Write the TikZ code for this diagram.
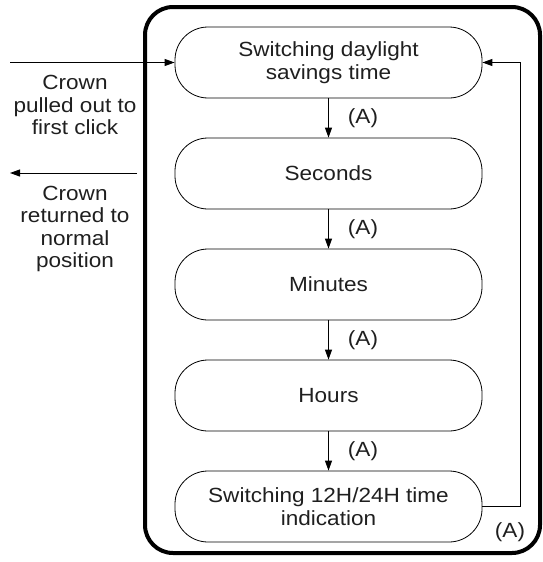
\documentclass[tikz,border=0pt]{standalone}
\usepackage{fontspec}
\setmainfont{Liberation Sans}[FakeStretch=1.1]
\usetikzlibrary{positioning}
\usetikzlibrary{arrows.meta}

\begin{document}
\begin{tikzpicture}[x=1pt,y=-1pt,
        every node/.style={font=\fontsize{20.5}{22.5}\selectfont,text=black!88},
        modebox/.style={draw,rectangle,rounded corners=33pt,minimum width=307pt,minimum height=71pt,align=center,line width=0.8pt},
        flow/.style={-{Triangle[length=10pt,width=7pt]},line width=1pt}]
        \useasboundingbox (0,0) rectangle (542,562);
        \draw[line width=4pt,rounded corners=28pt] (145,7) rectangle (540,553);
        \node[modebox] (dst) at (328.5, 62.5) {Switching daylight\\savings time};
        \node[modebox] (sec) at (328.5, 173.5) {Seconds};
        \node[modebox] (min) at (328.5, 284.5) {Minutes};
        \node[modebox] (hrs) at (328.5, 395.5) {Hours};
        \node[modebox] (clock) at (328.5, 506.5) {Switching 12H/24H time\\indication};
        \draw[flow] (dst) -- (sec);
        \draw[flow] (sec) -- (min);
        \draw[flow] (min) -- (hrs);
        \draw[flow] (hrs) -- (clock);
        \node (a1) at (363, 118) {(A)};
        \node (a2) at (363, 229) {(A)};
        \node (a3) at (363, 340) {(A)};
        \node (a4) at (363, 451) {(A)};
        \draw[flow] (clock.east) -- ++(38,0) |- (dst.east);
        \node (a5) at (510, 532) {(A)};
        % crown
        \coordinate (pull) at (10, 62.5);
        \draw[flow] (pull) -- (dst.west);
        \node[align=center] (pulltext) at (75, 105) {Crown\\pulled out to\\first click};
        \coordinate (back) at (137, 173);
        \coordinate (out) at (10, 173);
        \draw[flow] (back) -- (out);
        \node[align=center] (backtext) at (75, 229) {Crown\\returned to\\normal\\position};
\end{tikzpicture}
\end{document}
